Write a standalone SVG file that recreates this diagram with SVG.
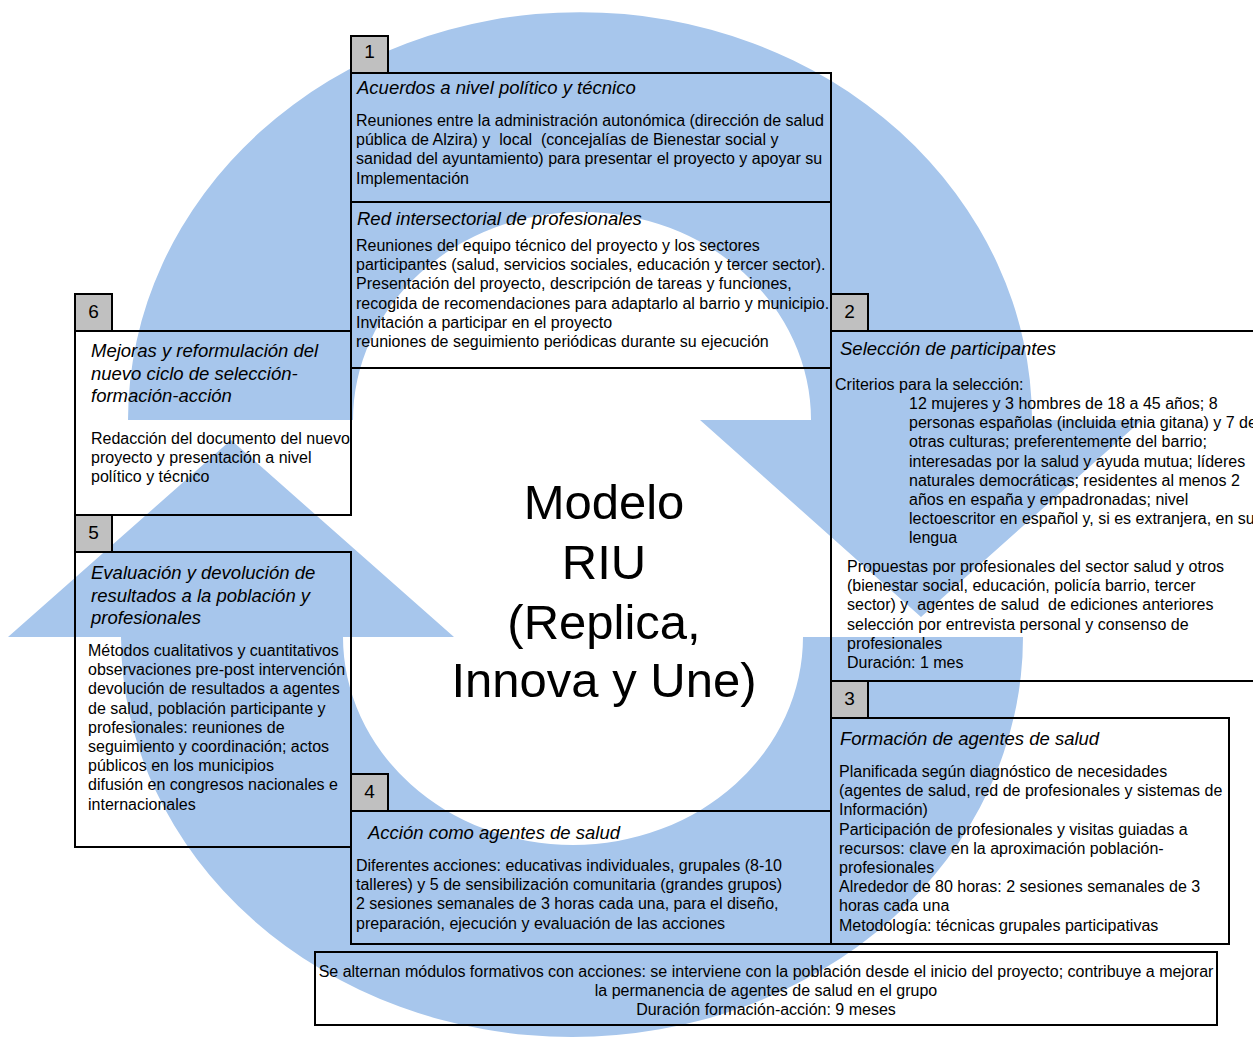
<svg xmlns="http://www.w3.org/2000/svg" width="1253" height="1038" viewBox="0 0 1253 1038">
<style>
.bg{fill:#A7C6EC;stroke:none}
.box{fill:none;stroke:#000;stroke-width:2}
.tab{fill:#C0C0C0;stroke:#000;stroke-width:2}
.num{font-family:"Liberation Sans",Arial,sans-serif;font-size:19px;fill:#000;text-anchor:middle}
.t{font-family:"Liberation Sans",Arial,sans-serif;font-size:18.5px;font-style:italic;fill:#000}
.b{font-family:"Liberation Sans",Arial,sans-serif;font-size:16px;fill:#000}
.c{font-family:"Liberation Sans",Arial,sans-serif;font-size:49px;fill:#000;text-anchor:middle}
</style>
<rect width="1253" height="1038" fill="#fff"/>
<g id="cycle-arrows">
<path class="bg" d="M 128 420 A 452 408 0 0 1 1032 420 L 1142 420 L 921 617 L 700 420 L 811 420 A 229 208 0 0 0 353 420 Z"/>
<path class="bg" d="M 1023 637 A 451 400 0 0 1 121 637 L 8 637 L 231 440 L 454 637 L 343 637 A 230 208 0 0 0 803 637 Z"/>
</g>
<g id="center">
<text class="c" x="604" y="519">Modelo</text>
<text class="c" x="604" y="579">RIU</text>
<text class="c" x="604" y="639">(Replica,</text>
<text class="c" x="604" y="697">Innova y Une)</text>
</g>
<g id="connectors"></g>
<g id="step1">
<rect class="tab" x="351" y="36" width="37" height="37"/>
<text class="num" x="369.5" y="58">1</text>
<rect class="box" x="351" y="73" width="480" height="129"/>
<text class="t" x="357" y="94">Acuerdos a nivel político y técnico</text>
<text class="b" x="356" y="126" xml:space="preserve"><tspan x="356">Reuniones entre la administración autonómica (dirección de salud</tspan><tspan x="356" dy="19.2">pública de Alzira) y  local  (concejalías de Bienestar social y</tspan><tspan x="356" dy="19.2">sanidad del ayuntamiento) para presentar el proyecto y apoyar su</tspan><tspan x="356" dy="19.2">Implementación</tspan></text>
</g>
<g id="step1b">
<rect class="box" x="351" y="202" width="480" height="166"/>
<text class="t" x="357" y="225">Red intersectorial de profesionales</text>
<text class="b" x="356" y="251"><tspan x="356">Reuniones del equipo técnico del proyecto y los sectores</tspan><tspan x="356" dy="19.2">participantes (salud, servicios sociales, educación y tercer sector).</tspan><tspan x="356" dy="19.2">Presentación del proyecto, descripción de tareas y funciones,</tspan><tspan x="356" dy="19.2">recogida de recomendaciones para adaptarlo al barrio y municipio.</tspan><tspan x="356" dy="19.2">Invitación a participar en el proyecto</tspan><tspan x="356" dy="19.2">reuniones de seguimiento periódicas durante su ejecución</tspan></text>
</g>
<g id="step6">
<rect class="tab" x="75" y="294" width="37" height="37"/>
<text class="num" x="93.5" y="318">6</text>
<rect class="box" x="75" y="331" width="276" height="184"/>
<text class="t" x="91" y="357"><tspan x="91">Mejoras y reformulación del</tspan><tspan x="91" dy="22.5">nuevo ciclo de selección-</tspan><tspan x="91" dy="22.5">formación-acción</tspan></text>
<text class="b" x="91" y="444"><tspan x="91">Redacción del documento del nuevo</tspan><tspan x="91" dy="19.2">proyecto y presentación a nivel</tspan><tspan x="91" dy="19.2">político y técnico</tspan></text>
</g>
<g id="step5">
<rect class="tab" x="75" y="515" width="37" height="37"/>
<text class="num" x="93.5" y="539">5</text>
<rect class="box" x="75" y="552" width="276" height="295"/>
<text class="t" x="91" y="579"><tspan x="91">Evaluación y devolución de</tspan><tspan x="91" dy="22.5">resultados a la población y</tspan><tspan x="91" dy="22.5">profesionales</tspan></text>
<text class="b" x="88" y="656"><tspan x="88">Métodos cualitativos y cuantitativos</tspan><tspan x="88" dy="19.2">observaciones pre-post intervención</tspan><tspan x="88" dy="19.2">devolución de resultados a agentes</tspan><tspan x="88" dy="19.2">de salud, población participante y</tspan><tspan x="88" dy="19.2">profesionales: reuniones de</tspan><tspan x="88" dy="19.2">seguimiento y coordinación; actos</tspan><tspan x="88" dy="19.2">públicos en los municipios</tspan><tspan x="88" dy="19.2">difusión en congresos nacionales e</tspan><tspan x="88" dy="19.2">internacionales</tspan></text>
</g>
<g id="step2">
<rect class="tab" x="831" y="294" width="37" height="37"/>
<text class="num" x="849.5" y="318">2</text>
<rect class="box" x="831" y="331" width="440" height="350"/>
<text class="t" x="840" y="355">Selección de participantes</text>
<text class="b" x="835" y="390">Criterios para la selección:</text>
<text class="b" x="909" y="409"><tspan x="909">12 mujeres y 3 hombres de 18 a 45 años; 8</tspan><tspan x="909" dy="19.2">personas españolas (incluida etnia gitana) y 7 de</tspan><tspan x="909" dy="19.2">otras culturas; preferentemente del barrio;</tspan><tspan x="909" dy="19.2">interesadas por la salud y ayuda mutua; líderes</tspan><tspan x="909" dy="19.2">naturales democráticas; residentes al menos 2</tspan><tspan x="909" dy="19.2">años en españa y empadronadas; nivel</tspan><tspan x="909" dy="19.2">lectoescritor en español y, si es extranjera, en su</tspan><tspan x="909" dy="19.2">lengua</tspan></text>
<text class="b" x="847" y="572" xml:space="preserve"><tspan x="847">Propuestas por profesionales del sector salud y otros</tspan><tspan x="847" dy="19.2">(bienestar social, educación, policía barrio, tercer</tspan><tspan x="847" dy="19.2">sector) y  agentes de salud  de ediciones anteriores</tspan><tspan x="847" dy="19.2">selección por entrevista personal y consenso de</tspan><tspan x="847" dy="19.2">profesionales</tspan><tspan x="847" dy="19.2">Duración: 1 mes</tspan></text>
</g>
<g id="step3">
<rect class="tab" x="831" y="681" width="37" height="37"/>
<text class="num" x="849.5" y="705">3</text>
<rect class="box" x="831" y="718" width="398" height="226"/>
<text class="t" x="840" y="745">Formación de agentes de salud</text>
<text class="b" x="839" y="777"><tspan x="839">Planificada según diagnóstico de necesidades</tspan><tspan x="839" dy="19.2">(agentes de salud, red de profesionales y sistemas de</tspan><tspan x="839" dy="19.2">Información)</tspan><tspan x="839" dy="19.2">Participación de profesionales y visitas guiadas a</tspan><tspan x="839" dy="19.2">recursos: clave en la aproximación población-</tspan><tspan x="839" dy="19.2">profesionales</tspan><tspan x="839" dy="19.2">Alrededor de 80 horas: 2 sesiones semanales de 3</tspan><tspan x="839" dy="19.2">horas cada una</tspan><tspan x="839" dy="19.2">Metodología: técnicas grupales participativas</tspan></text>
</g>
<g id="step4">
<rect class="tab" x="351" y="774" width="37" height="37"/>
<text class="num" x="369.5" y="798">4</text>
<rect class="box" x="351" y="811" width="480" height="133"/>
<text class="t" x="368" y="839">Acción como agentes de salud</text>
<text class="b" x="356" y="871"><tspan x="356">Diferentes acciones: educativas individuales, grupales (8-10</tspan><tspan x="356" dy="19.2">talleres) y 5 de sensibilización comunitaria (grandes grupos)</tspan><tspan x="356" dy="19.2">2 sesiones semanales de 3 horas cada una, para el diseño,</tspan><tspan x="356" dy="19.2">preparación, ejecución y evaluación de las acciones</tspan></text>
</g>
<g id="summary">
<rect class="box" x="315" y="952" width="902" height="73"/>
<text class="b" x="766" y="977" text-anchor="middle"><tspan x="766">Se alternan módulos formativos con acciones: se interviene con la población desde el inicio del proyecto; contribuye a mejorar</tspan><tspan x="766" dy="19.2">la permanencia de agentes de salud en el grupo</tspan><tspan x="766" dy="19.2">Duración formación-acción: 9 meses</tspan></text>
</g>
</svg>
